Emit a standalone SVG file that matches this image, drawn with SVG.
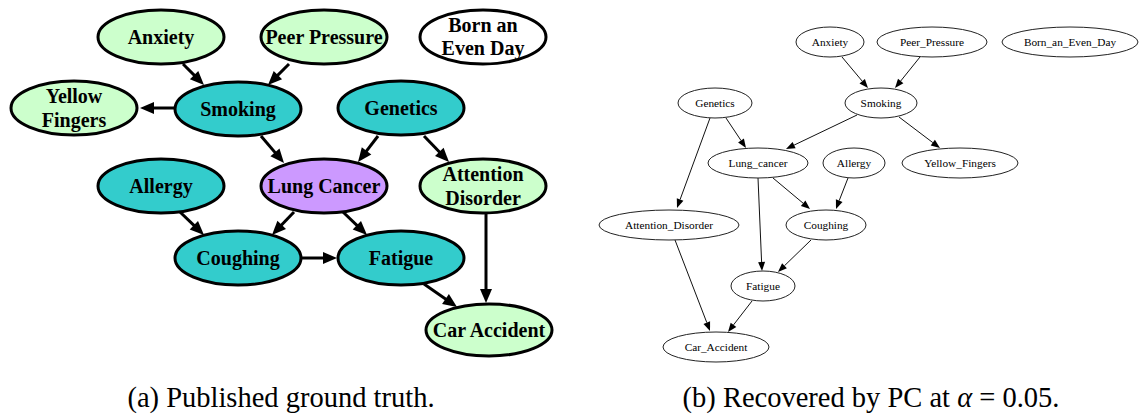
<svg xmlns="http://www.w3.org/2000/svg" width="1140" height="414" viewBox="0 0 1140 414">
<rect x="0" y="0" width="1140" height="414" fill="#ffffff"/>

<g id="left-edges">
<g stroke="#000" stroke-width="3">
<line x1="183" y1="64" x2="196.9" y2="77.9"/>
<line x1="289" y1="64" x2="275.1" y2="77.9"/>
<line x1="174" y1="108" x2="150" y2="108"/>
<line x1="261" y1="136" x2="277.5" y2="155.4"/>
<line x1="378" y1="136" x2="364.1" y2="154.1"/>
<line x1="424" y1="136" x2="442.1" y2="154.8"/>
<line x1="180" y1="212" x2="196.8" y2="228.1"/>
<line x1="294" y1="212" x2="278.9" y2="227.8"/>
<line x1="343" y1="212" x2="359.8" y2="228.1"/>
<line x1="302" y1="258" x2="327" y2="258"/>
<line x1="424" y1="284" x2="448.8" y2="301.3"/>
<line x1="486" y1="214" x2="486" y2="293"/>
</g>
<g fill="#000">
<polygon points="204,85 189.9,79.3 198.3,70.9"/>
<polygon points="268,85 273.7,70.9 282.1,79.3"/>
<polygon points="140,108 154,102 154,114"/>
<polygon points="284,163 270.4,156.2 279.5,148.4"/>
<polygon points="358,162 361.8,147.2 371.3,154.6"/>
<polygon points="449,162 435,156.1 443.6,147.7"/>
<polygon points="204,235 189.7,229.6 198,221"/>
<polygon points="272,235 277.4,220.7 286,229"/>
<polygon points="367,235 352.7,229.6 361,221"/>
<polygon points="337,258 323,252 323,264"/>
<polygon points="457,307 442.1,303.9 448.9,294.1"/>
<polygon points="486,303 480,289 492,289"/>
</g>
</g>

<g id="a-anxiety"><ellipse fill="#ccffcc" stroke="#000" stroke-width="3" cx="161" cy="37" rx="63" ry="27"/><text text-anchor="middle" font-family="'Liberation Serif', serif" font-weight="bold" font-size="20" x="161" y="44">Anxiety</text></g>
<g id="a-peer"><ellipse fill="#ccffcc" stroke="#000" stroke-width="3" cx="324" cy="37" rx="63" ry="27"/><text text-anchor="middle" font-family="'Liberation Serif', serif" font-weight="bold" font-size="20" x="324" y="44">Peer Pressure</text></g>
<g id="a-born"><ellipse fill="#ffffff" stroke="#000" stroke-width="3" cx="483" cy="37" rx="63" ry="27"/><text text-anchor="middle" font-family="'Liberation Serif', serif" font-weight="bold" font-size="20" x="483" y="32">Born an</text><text text-anchor="middle" font-family="'Liberation Serif', serif" font-weight="bold" font-size="20" x="483" y="55">Even Day</text></g>
<g id="a-yellow"><ellipse fill="#ccffcc" stroke="#000" stroke-width="3" cx="74" cy="108" rx="63" ry="27"/><text text-anchor="middle" font-family="'Liberation Serif', serif" font-weight="bold" font-size="20" x="74" y="103">Yellow</text><text text-anchor="middle" font-family="'Liberation Serif', serif" font-weight="bold" font-size="20" x="74" y="127">Fingers</text></g>
<g id="a-smoking"><ellipse fill="#33cccc" stroke="#000" stroke-width="3" cx="238" cy="109" rx="63" ry="27"/><text text-anchor="middle" font-family="'Liberation Serif', serif" font-weight="bold" font-size="20" x="238" y="116">Smoking</text></g>
<g id="a-genetics"><ellipse fill="#33cccc" stroke="#000" stroke-width="3" cx="401" cy="108" rx="63" ry="27"/><text text-anchor="middle" font-family="'Liberation Serif', serif" font-weight="bold" font-size="20" x="401" y="115">Genetics</text></g>
<g id="a-allergy"><ellipse fill="#33cccc" stroke="#000" stroke-width="3" cx="161" cy="186" rx="63" ry="27"/><text text-anchor="middle" font-family="'Liberation Serif', serif" font-weight="bold" font-size="20" x="161" y="193">Allergy</text></g>
<g id="a-lung"><ellipse fill="#cc99ff" stroke="#000" stroke-width="3" cx="324" cy="186" rx="63" ry="27"/><text text-anchor="middle" font-family="'Liberation Serif', serif" font-weight="bold" font-size="20" x="324" y="193">Lung Cancer</text></g>
<g id="a-attention"><ellipse fill="#ccffcc" stroke="#000" stroke-width="3" cx="483" cy="186" rx="63" ry="27"/><text text-anchor="middle" font-family="'Liberation Serif', serif" font-weight="bold" font-size="20" x="483" y="181">Attention</text><text text-anchor="middle" font-family="'Liberation Serif', serif" font-weight="bold" font-size="20" x="483" y="205">Disorder</text></g>
<g id="a-coughing"><ellipse fill="#33cccc" stroke="#000" stroke-width="3" cx="238" cy="258" rx="63" ry="27"/><text text-anchor="middle" font-family="'Liberation Serif', serif" font-weight="bold" font-size="20" x="238" y="265">Coughing</text></g>
<g id="a-fatigue"><ellipse fill="#33cccc" stroke="#000" stroke-width="3" cx="401" cy="258" rx="63" ry="27"/><text text-anchor="middle" font-family="'Liberation Serif', serif" font-weight="bold" font-size="20" x="401" y="265">Fatigue</text></g>
<g id="a-car"><ellipse fill="#ccffcc" stroke="#000" stroke-width="3" cx="489" cy="330" rx="63" ry="26"/><text text-anchor="middle" font-family="'Liberation Serif', serif" font-weight="bold" font-size="20" x="489" y="337">Car Accident</text></g>

<g id="right-edges">
<g stroke="#111" stroke-width="1">
<line x1="842" y1="57" x2="862.2" y2="81.1"/>
<line x1="920" y1="57" x2="900.7" y2="81"/>
<line x1="857" y1="115" x2="794.1" y2="145.1"/>
<line x1="899" y1="117" x2="932.8" y2="142.6"/>
<line x1="726" y1="118" x2="741" y2="140.5"/>
<line x1="710" y1="118" x2="680.1" y2="199.5"/>
<line x1="773" y1="178" x2="803.1" y2="203.2"/>
<line x1="758" y1="178" x2="761.6" y2="262"/>
<line x1="848" y1="178" x2="839.2" y2="200.6"/>
<line x1="811" y1="240" x2="784.5" y2="265.7"/>
<line x1="675" y1="240" x2="706.8" y2="322.6"/>
<line x1="752" y1="301" x2="733.5" y2="324.9"/>
</g>
<g fill="#000">
<polygon points="868,88 859.5,83.4 864.9,78.9"/>
<polygon points="895,88 898,78.8 903.4,83.2"/>
<polygon points="786,149 792.6,141.9 795.6,148.3"/>
<polygon points="940,148 930.7,145.4 934.9,139.8"/>
<polygon points="746,148 738.1,142.4 743.9,138.6"/>
<polygon points="677,208 676.8,198.3 683.4,200.7"/>
<polygon points="810,209 800.9,205.9 805.4,200.5"/>
<polygon points="762,271 758.1,262.2 765.1,261.8"/>
<polygon points="836,209 835.9,199.3 842.5,201.9"/>
<polygon points="778,272 782.1,263.2 786.9,268.2"/>
<polygon points="710,331 703.5,323.9 710.1,321.3"/>
<polygon points="728,332 730.7,322.8 736.3,327"/>
</g>
</g>

<g id="b-anxiety"><ellipse fill="#fff" stroke="#222" stroke-width="1" cx="830" cy="42" rx="34" ry="15"/><text text-anchor="middle" font-family="'Liberation Serif', serif" font-size="11.3" x="830" y="46">Anxiety</text></g>
<g id="b-peer"><ellipse fill="#fff" stroke="#222" stroke-width="1" cx="932" cy="42" rx="55" ry="15"/><text text-anchor="middle" font-family="'Liberation Serif', serif" font-size="11.3" x="932" y="46">Peer_Pressure</text></g>
<g id="b-born"><ellipse fill="#fff" stroke="#222" stroke-width="1" cx="1070" cy="42" rx="68" ry="15"/><text text-anchor="middle" font-family="'Liberation Serif', serif" font-size="11.3" x="1070" y="46">Born_an_Even_Day</text></g>
<g id="b-genetics"><ellipse fill="#fff" stroke="#222" stroke-width="1" cx="715" cy="103" rx="37" ry="15"/><text text-anchor="middle" font-family="'Liberation Serif', serif" font-size="11.3" x="715" y="107">Genetics</text></g>
<g id="b-smoking"><ellipse fill="#fff" stroke="#222" stroke-width="1" cx="881" cy="103" rx="36" ry="15"/><text text-anchor="middle" font-family="'Liberation Serif', serif" font-size="11.3" x="881" y="107">Smoking</text></g>
<g id="b-lung"><ellipse fill="#fff" stroke="#222" stroke-width="1" cx="758" cy="163" rx="50" ry="15"/><text text-anchor="middle" font-family="'Liberation Serif', serif" font-size="11.3" x="758" y="167">Lung_cancer</text></g>
<g id="b-allergy"><ellipse fill="#fff" stroke="#222" stroke-width="1" cx="854" cy="163" rx="31" ry="15"/><text text-anchor="middle" font-family="'Liberation Serif', serif" font-size="11.3" x="854" y="167">Allergy</text></g>
<g id="b-yellow"><ellipse fill="#fff" stroke="#222" stroke-width="1" cx="960" cy="163" rx="58" ry="15"/><text text-anchor="middle" font-family="'Liberation Serif', serif" font-size="11.3" x="960" y="167">Yellow_Fingers</text></g>
<g id="b-attention"><ellipse fill="#fff" stroke="#222" stroke-width="1" cx="669" cy="225" rx="70" ry="15"/><text text-anchor="middle" font-family="'Liberation Serif', serif" font-size="11.3" x="669" y="229">Attention_Disorder</text></g>
<g id="b-coughing"><ellipse fill="#fff" stroke="#222" stroke-width="1" cx="826" cy="225" rx="40" ry="15"/><text text-anchor="middle" font-family="'Liberation Serif', serif" font-size="11.3" x="826" y="229">Coughing</text></g>
<g id="b-fatigue"><ellipse fill="#fff" stroke="#222" stroke-width="1" cx="763" cy="286" rx="32" ry="15"/><text text-anchor="middle" font-family="'Liberation Serif', serif" font-size="11.3" x="763" y="290">Fatigue</text></g>
<g id="b-car"><ellipse fill="#fff" stroke="#222" stroke-width="1" cx="716" cy="347" rx="53" ry="15"/><text text-anchor="middle" font-family="'Liberation Serif', serif" font-size="11.3" x="716" y="351">Car_Accident</text></g>

<text text-anchor="middle" font-family="'Liberation Serif', serif" font-size="28.5" x="281" y="407">(a) Published ground truth.</text>
<text text-anchor="middle" font-family="'Liberation Serif', serif" font-size="28.5" x="871" y="407">(b) Recovered by PC at <tspan font-style="italic">&#945;</tspan> = 0.05.</text>
</svg>
